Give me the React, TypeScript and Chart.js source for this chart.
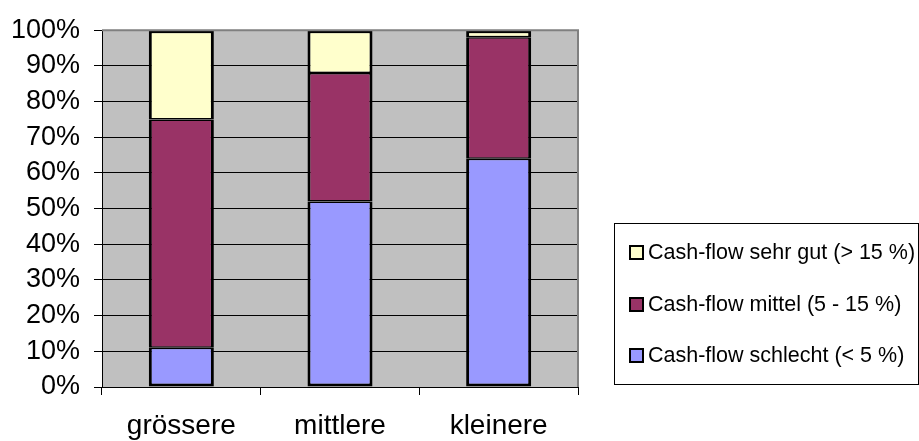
import React, { useEffect, useRef } from "react";
import { Chart, registerables } from "chart.js";

Chart.register(...registerables);

const categories = ["grössere", "mittlere", "kleinere"];
const seriesNames = [
  "Cash-flow schlecht (< 5 %)",
  "Cash-flow mittel (5 - 15 %)",
  "Cash-flow sehr gut (> 15 %)",
];
const schlecht = [11, 52, 64];
const mittel = [64, 36, 34];
const sehrGut = [25, 12, 2];
const seriesColors = ["#9999FF", "#993366", "#FFFFCC"];

const FONT = "Arial, 'Liberation Sans', sans-serif";

const frameAndLegend = {
  id: "frameAndLegend",
  beforeDraw(chart: any) {
    const { ctx, chartArea: a } = chart;
    ctx.save();
    ctx.fillStyle = "#C0C0C0";
    ctx.fillRect(a.left, a.top, a.right - a.left, a.bottom - a.top);
    ctx.restore();
  },
  afterDraw(chart: any) {
    const { ctx, chartArea: a } = chart;
    ctx.save();
    ctx.strokeStyle = "#808080";
    ctx.lineWidth = 2;
    ctx.beginPath();
    ctx.moveTo(a.left, a.top);
    ctx.lineTo(a.right, a.top);
    ctx.lineTo(a.right, a.bottom);
    ctx.stroke();
    const bx = 614.5, by = 223.5, bw = 304, bh = 161;
    ctx.strokeStyle = "#000";
    ctx.lineWidth = 1;
    ctx.strokeRect(bx, by, bw, bh);
    const ds = chart.data.datasets;
    const order = [2, 1, 0];
    const ys = [252, 304, 355];
    ctx.font = `21.5px ${FONT}`;
    ctx.textBaseline = "middle";
    ctx.textAlign = "left";
    order.forEach((i, k) => {
      const y = ys[k];
      ctx.fillStyle = ds[i].backgroundColor;
      ctx.fillRect(630, y - 6, 13, 13);
      ctx.strokeStyle = "#000";
      ctx.lineWidth = 2;
      ctx.strokeRect(630, y - 6, 13, 13);
      ctx.fillStyle = "#000";
      ctx.fillText(ds[i].label, 648, y + 1);
    });
    ctx.restore();
  },
};

export default function App() {
  const ref = useRef<HTMLCanvasElement>(null);
  useEffect(() => {
    const values = [schlecht, mittel, sehrGut];
    const n = values.length;
    const chart = new Chart(ref.current!, {
      type: "bar",
      data: {
        labels: categories,
        datasets: values.map((v, i) => ({
          label: seriesNames[i],
          data: v,
          backgroundColor: seriesColors[i],
          borderColor: "#000",
          borderWidth: {
            left: 3,
            right: 3,
            bottom: i === 0 ? 3 : 1.5,
            top: i === n - 1 ? 3 : 1.5,
          },
          borderSkipped: false,
          inflateAmount: 0,
          categoryPercentage: 1,
          barPercentage: 0.41,
        })),
      },
      options: {
        responsive: false,
        animation: false,
        layout: { padding: { top: 26, right: 341, left: 0, bottom: 0 } },
        plugins: { legend: { display: false }, tooltip: { enabled: false } },
        scales: {
          x: {
            stacked: true,
            offset: true,
            grid: {
              offset: true,
              drawOnChartArea: false,
              drawTicks: true,
              tickLength: 8,
              color: "#000",
            },
            border: { display: true, color: "#000", width: 1 },
            ticks: {
              color: "#000",
              font: { family: FONT, size: 28 },
              padding: 14,
              maxRotation: 0,
            },
            afterFit(scale: any) {
              scale.height = 54;
            },
          },
          y: {
            stacked: true,
            min: 0,
            max: 100,
            grid: {
              color: (c: any) => (c.tick && c.tick.value === 100 ? "#808080" : "#000"),
              tickColor: "#000",
              tickLength: 8,
              lineWidth: 1,
            },
            border: { display: true, color: "#000", width: 1 },
            ticks: {
              stepSize: 10,
              color: "#000",
              font: { family: FONT, size: 27 },
              padding: 14,
              callback: (v: any) => `${v}%`,
            },
            afterFit(scale: any) {
              scale.width = 102;
            },
          },
        },
      },
      plugins: [frameAndLegend],
    });
    return () => chart.destroy();
  }, []);
  return (
    <div style={{ position: "fixed", left: 0, top: 0, width: 919, height: 441, background: "#fff" }}>
      <canvas ref={ref} width={919} height={441} />
    </div>
  );
}
